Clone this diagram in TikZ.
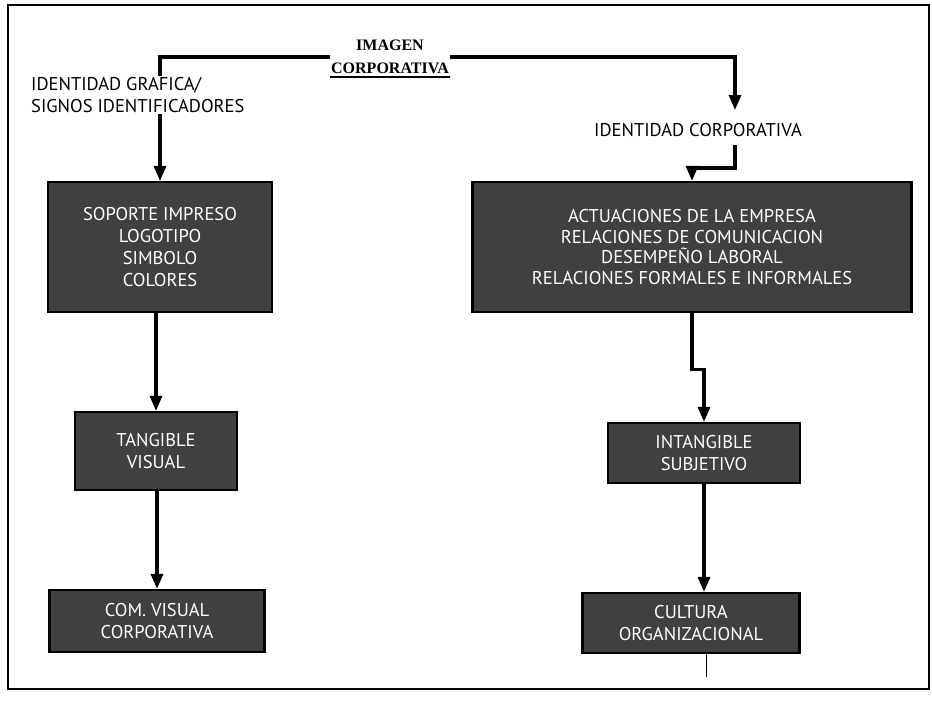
\documentclass[tikz,border=0pt]{standalone}
\usepackage{fontspec}
\setmainfont{PT Sans}
\newfontfamily\serifo{Liberation Serif}
\usetikzlibrary{arrows.meta}

\begin{document}
\begin{tikzpicture}[x=1pt, y=-1pt,
    caja/.style={draw=black, line width=2.2pt, fill=black!75, text=white,
      align=center, font=\fontsize{18.5}{22}\selectfont, inner sep=0pt},
    rotulo/.style={align=left, font=\fontsize{18.5}{22}\selectfont, inner sep=1pt},
    titular/.style={align=center, font=\serifo\bfseries\fontsize{16}{23}\selectfont, inner sep=1pt},
    enlace/.style={line width=3.2pt},
    flecha/.style={enlace, -{Triangle[length=15pt,width=12pt]}}]
  \useasboundingbox (0,0) rectangle (932,702);
  \draw[line width=1.4pt] (8,5) rectangle (929,689);

  % titulo
  \node[titular] (titulo) at (390,57) {IMAGEN\\CORPORATIVA};
  \draw[line width=1.4pt] ([yshift=-2pt]titulo.south west) -- ([yshift=-2pt]titulo.south east);

  % rama izquierda
  \node[rotulo, anchor=north west] (grafica) at (30,76)
    {IDENTIDAD GRAFICA/\\SIGNOS IDENTIFICADORES};
  \node[caja, minimum width=224pt, minimum height=130pt] (soporte) at (160,247)
    {SOPORTE IMPRESO\\LOGOTIPO\\SIMBOLO\\COLORES};
  \node[caja, minimum width=162pt, minimum height=78pt] (tangible) at (156,451)
    {TANGIBLE\\VISUAL};
  \node[caja, minimum width=215pt, minimum height=62pt] (comvisual) at (157,621)
    {COM. VISUAL\\CORPORATIVA};

  % rama derecha
  \node[rotulo] (corporativa) at (698,130) {IDENTIDAD CORPORATIVA};
  \node[caja, minimum width=439pt, minimum height=130pt,
    font=\fontsize{18.5}{20.5}\selectfont] (actuaciones) at (692,247)
    {ACTUACIONES DE LA EMPRESA\\RELACIONES DE COMUNICACION\\DESEMPE\~NO LABORAL\\RELACIONES FORMALES E INFORMALES};
  \node[caja, minimum width=192pt, minimum height=60pt] (intangible) at (704,453)
    {INTANGIBLE\\SUBJETIVO};
  \node[caja, minimum width=217pt, minimum height=60pt] (cultura) at (691,623)
    {CULTURA\\ORGANIZACIONAL};

  \coordinate (llegada) at (735,110);
  \coordinate (codo) at (735,145);
  \coordinate (remate) at (706,677);

  \draw[enlace] (titulo.west) -| (soporte.north |- grafica.north);
  \draw[flecha] (titulo.east) -| (llegada);
  \draw[flecha] (soporte.north |- grafica.south) -- (soporte.north);
  \draw[flecha] (tangible.north |- soporte.south) -- (tangible.north);
  \draw[flecha] (comvisual.north |- tangible.south) -- (comvisual.north);

  \draw[flecha] (codo) -- ++(0,23) -| (actuaciones.north);
  \draw[flecha] (actuaciones.south) -- ++(0,56) -| (intangible.north);
  \draw[flecha] (intangible.south) -- (intangible.south |- cultura.north);
  \draw[line width=1pt] (remate |- cultura.south) -- (remate);
\end{tikzpicture}
\end{document}
